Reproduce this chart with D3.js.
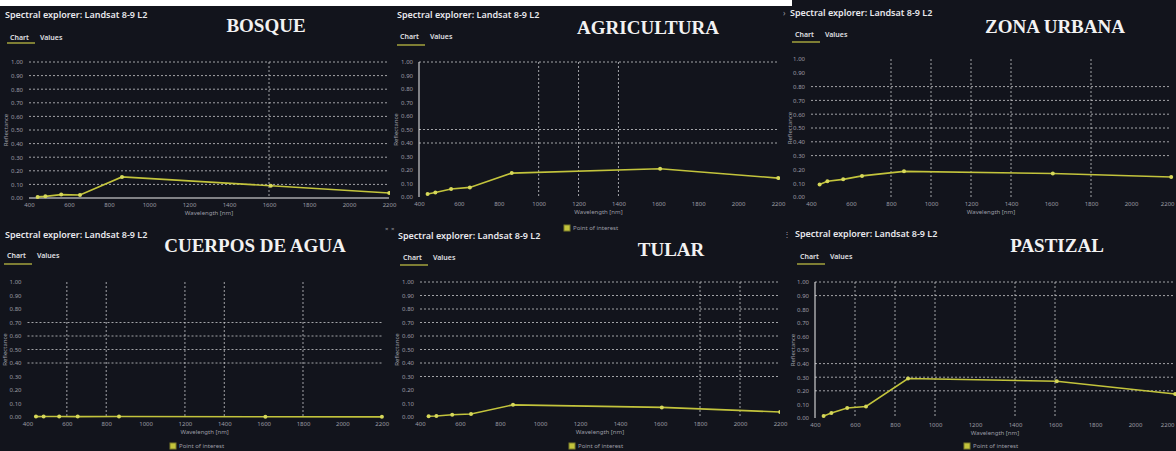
<!DOCTYPE html>
<html>
<head>
<meta charset="utf-8">
<script src="https://cdnjs.cloudflare.com/ajax/libs/d3/7.8.5/d3.min.js"></script>
<style>
  body { margin: 0; background: #fff; }
  svg { display: block; }
  .ui { font-family: "Noto Sans", "Open Sans", sans-serif; }
  .tick text { font-family: "Noto Sans", sans-serif; font-size: 6px; fill: #9c9ca4; }
</style>
</head>
<body>
<svg></svg>
<script>
  // landsat 8-9 band centres (nm) and reflectance per cover type
  const wavelengths = [443, 482, 561, 655, 865, 1609, 2201];
  const bosque      = [0.008, 0.012, 0.025, 0.022, 0.155, 0.090, 0.037];
  const agricultura = [0.022, 0.034, 0.059, 0.071, 0.177, 0.209, 0.140];
  const zonaUrbana  = [0.090, 0.114, 0.128, 0.153, 0.186, 0.170, 0.145];
  const cuerposAgua = [0.003, 0.004, 0.004, 0.003, 0.004, 0.002, 0.001];
  const tular       = [0.005, 0.007, 0.017, 0.022, 0.090, 0.071, 0.037];
  const pastizal    = [0.015, 0.037, 0.073, 0.085, 0.290, 0.270, 0.176];

  const titles = ["BOSQUE", "AGRICULTURA", "ZONA URBANA", "CUERPOS DE AGUA", "TULAR", "PASTIZAL"];
  const xTicks = [400, 600, 800, 1000, 1200, 1400, 1600, 1800, 2000, 2200];
  const yTicks = [0, 0.1, 0.2, 0.3, 0.4, 0.5, 0.6, 0.7, 0.8, 0.9, 1.0];

  // gridlines that survived in each screenshot
  const hGrid = [
    [0.1, 0.2, 0.3, 0.4, 0.5, 0.6, 0.7, 0.8, 0.9, 1.0],
    [0.4, 0.5, 1.0],
    [0.3, 0.4, 0.5, 0.6, 0.7, 0.8],
    [0.4, 0.5, 0.6, 0.7],
    [0.3, 0.4, 0.5, 0.6, 0.7, 0.8, 0.9, 1.0],
    [0.2, 0.3, 0.4, 0.9, 1.0]
  ];
  const vGrid = [
    [1600],
    [1000, 1200, 1400],
    [800, 1000, 1200, 1400, 1800],
    [600, 800, 1200, 1400, 1800],
    [1800, 2000],
    [600, 800, 1000, 1400, 1600]
  ];
  const series = [bosque, agricultura, zonaUrbana, cuerposAgua, tular, pastizal];

  const W = 1176, H = 451;
  const svg = d3.select("svg").attr("width", W).attr("height", H);

  // panel layout: clip box, plot box, header offsets
  const panels = [
    {box: [0, 6, 390, 219], px: [29, 389], py: [198, 62], head: [5, 18], tab: [10, 40, 43], ttl: [266, 32], yAxisT: 6, solid: "x", legend: null},
    {box: [390, 6, 390, 219], px: [419, 778], py: [197, 62], head: [397, 18], tab: [400, 39, 45], ttl: [648, 34], yAxisT: 396, solid: "y", legend: [567, 228]},
    {box: [780, 0, 396, 225], px: [811, 1171], py: [197, 59], head: [790, 16], tab: [795, 37, 42], ttl: [1055, 33], yAxisT: 790, solid: null, legend: null},
    {box: [0, 225, 390, 226], px: [27.5, 381.7], py: [417, 282], head: [5, 238], tab: [7, 258, 264], ttl: [255, 252], yAxisT: 5, solid: null, legend: [173, 446]},
    {box: [390, 225, 390, 226], px: [420, 780], py: [417, 282], head: [398, 239], tab: [403, 260, 265], ttl: [671, 256], yAxisT: 397, solid: null, legend: [572, 446]},
    {box: [780, 225, 396, 226], px: [815, 1175], py: [418, 282], head: [795, 237], tab: [800, 259, 264], ttl: [1057, 252], yAxisT: 793, solid: "y", legend: [967, 446]}
  ];

  svg.append("rect").attr("x", 0).attr("y", 0).attr("width", W).attr("height", H).attr("fill", "#12141c");
  // white strip across the top of the first two screenshots
  svg.append("rect").attr("x", 0).attr("y", 0).attr("width", 792).attr("height", 6).attr("fill", "#ffffff");

  const lineColor = "#c3c43c";

  panels.forEach(function(p, i) {
    svg.append("clipPath").attr("id", "clip" + i)
      .append("rect").attr("x", p.box[0]).attr("y", p.box[1]).attr("width", p.box[2]).attr("height", p.box[3]);

    const g = svg.append("g").attr("clip-path", "url(#clip" + i + ")");

    const x = d3.scaleLinear().domain([400, 2200]).range(p.px);
    const y = d3.scaleLinear().domain([0, 1]).range(p.py);

    // header
    g.append("text").attr("class", "ui").attr("x", p.head[0]).attr("y", p.head[1])
      .attr("font-size", 9).attr("font-weight", 600).attr("fill", "#e8e8ec")
      .text("Spectral explorer: Landsat 8-9 L2");
    g.append("text").attr("class", "ui").attr("x", p.tab[0]).attr("y", p.tab[1])
      .attr("font-size", 7).attr("font-weight", 600).attr("fill", "#e0e0e4").text("Chart");
    g.append("text").attr("class", "ui").attr("x", p.tab[0] + 30).attr("y", p.tab[1])
      .attr("font-size", 7).attr("font-weight", 600).attr("fill", "#e0e0e4").text("Values");
    g.append("line").attr("x1", p.tab[0] - 3).attr("x2", p.tab[0] + 25)
      .attr("y1", p.tab[2]).attr("y2", p.tab[2]).attr("stroke", "#a3a23c").attr("stroke-width", 1.5);

    // title
    g.append("text").attr("x", p.ttl[0]).attr("y", p.ttl[1]).attr("text-anchor", "middle")
      .attr("font-family", "Liberation Serif, serif").attr("font-weight", "bold")
      .attr("font-size", 19).attr("fill", "#f2f2f2").text(titles[i]);

    // grid
    g.selectAll(".hg").data(hGrid[i]).enter().append("line")
      .attr("x1", p.px[0]).attr("x2", p.px[1])
      .attr("y1", d => y(d)).attr("y2", d => y(d))
      .attr("stroke", "#c8c8cc").attr("stroke-width", 0.8).attr("stroke-dasharray", "2,2");
    g.selectAll(".vg").data(vGrid[i]).enter().append("line")
      .attr("x1", d => x(d)).attr("x2", d => x(d))
      .attr("y1", p.py[1]).attr("y2", p.py[0])
      .attr("stroke", "#c8c8cc").attr("stroke-width", 0.8).attr("stroke-dasharray", "2,2");

    if (p.solid === "x") {
      g.append("line").attr("x1", p.px[0]).attr("x2", p.px[1]).attr("y1", y(0)).attr("y2", y(0))
        .attr("stroke", "#f0f0f0").attr("stroke-width", 1);
    }
    if (p.solid === "y") {
      g.append("line").attr("x1", p.px[0]).attr("x2", p.px[0]).attr("y1", y(0)).attr("y2", y(1))
        .attr("stroke", "#f0f0f0").attr("stroke-width", 1);
    }

    // axes (x labels drawn unclipped so the last one is not cut)
    const xa = svg.append("g").attr("transform", "translate(0," + (p.py[0] + 2) + ")")
      .call(d3.axisBottom(x).tickValues(xTicks).tickSize(0).tickPadding(3).tickFormat(d3.format("d")))
      .call(a => a.select(".domain").remove());
    xa.selectAll(".tick text").filter(d => x(d) + 8 > W)
      .attr("text-anchor", "end").attr("x", d => W - 2 - x(d));
    g.append("g").attr("transform", "translate(" + p.px[0] + ",0)")
      .call(d3.axisLeft(y).tickValues(yTicks).tickSize(0).tickPadding(6).tickFormat(d3.format(".2f")))
      .call(a => a.select(".domain").remove());

    g.append("text").attr("class", "ui").attr("x", (p.px[0] + p.px[1]) / 2).attr("y", p.py[0] + 17)
      .attr("text-anchor", "middle").attr("font-size", 6).attr("fill", "#9c9ca4").text("Wavelength [nm]");
    g.append("text").attr("class", "ui")
      .attr("transform", "translate(" + (p.yAxisT + 2) + "," + ((p.py[0] + p.py[1]) / 2) + ") rotate(-90)")
      .attr("text-anchor", "middle").attr("font-size", 6).attr("fill", "#9c9ca4").text("Reflectance");

    // series
    const pts = wavelengths.map((w, k) => [w, series[i][k]]);
    g.append("path").datum(pts)
      .attr("fill", "none").attr("stroke", lineColor).attr("stroke-width", 1.6)
      .attr("d", d3.line().x(d => x(d[0])).y(d => y(d[1])));
    g.selectAll(".pt").data(pts).enter().append("circle")
      .attr("cx", d => x(d[0])).attr("cy", d => y(d[1])).attr("r", 2)
      .attr("fill", "#d6d85a");

    // legend (may spill past its screenshot)
    if (p.legend) {
      svg.append("rect").attr("x", p.legend[0] - 3).attr("y", p.legend[1] - 3)
        .attr("width", 6).attr("height", 6).attr("fill", "#c3c43c").attr("stroke", "#7d7e2a");
      svg.append("text").attr("class", "ui").attr("x", p.legend[0] + 6).attr("y", p.legend[1] + 2)
        .attr("font-size", 6).attr("fill", "#9c9ca4").text("Point of interest");
    }
  });

  // small window controls visible in the screenshots
  svg.append("text").attr("class", "ui").attr("x", 783).attr("y", 16).attr("font-size", 8).attr("fill", "#9c9ca4").text("›");
  svg.append("text").attr("class", "ui").attr("x", 391).attr("y", 231).attr("font-size", 6).attr("fill", "#9c9ca4").text("×");
  svg.append("text").attr("class", "ui").attr("x", 385).attr("y", 231).attr("font-size", 6).attr("fill", "#9c9ca4").text("×");
  svg.append("text").attr("class", "ui").attr("x", 783).attr("y", 237).attr("font-size", 8).attr("fill", "#9c9ca4").text("⋮");
</script>
</body>
</html>
